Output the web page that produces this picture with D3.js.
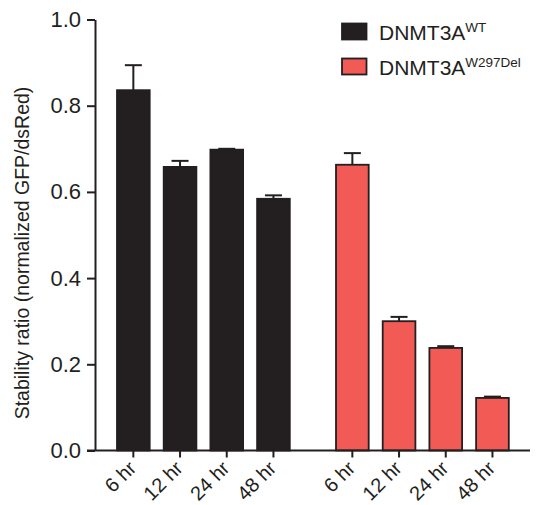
<!DOCTYPE html>
<html>
<head>
<meta charset="utf-8">
<script src="https://cdn.jsdelivr.net/npm/d3@7/dist/d3.min.js"></script>
<style>
  html, body { margin: 0; padding: 0; background: #fff; }
  svg { display: block; font-family: "Liberation Sans", Arial, Helvetica, sans-serif; }
</style>
</head>
<body>
<svg id="chart" width="537" height="505"></svg>
<script>
// Stability ratio by construct and time point
const groups = ["WT", "W297Del"];
const times = ["6 hr", "12 hr", "24 hr", "48 hr"];
const wtMeans = [0.836, 0.658, 0.698, 0.584];
const wtErr = [0.058, 0.014, 0.002, 0.008];
const delMeans = [0.663, 0.300, 0.238, 0.122];
const delErr = [0.027, 0.010, 0.004, 0.003];
const yTicks = [0, 0.2, 0.4, 0.6, 0.8, 1.0];
const groupColors = { "WT": "#231f20", "W297Del": "#f15a55" };
const ink = "#231f20";

const rows = [];
groups.forEach((g, gi) => {
  const means = gi === 0 ? wtMeans : delMeans;
  const errs = gi === 0 ? wtErr : delErr;
  times.forEach((t, i) => rows.push({ group: g, time: t, value: means[i], err: errs[i] }));
});

const svg = d3.select("#chart");
const axisX = 95, baseY = 450.5, topY = 19.5, rightX = 530;

const y = d3.scaleLinear().domain([0, 1]).range([baseY, topY]);
const xGroup = d3.scaleBand().domain(groups).range([117, 508.8]).paddingInner(0.211).paddingOuter(0);
const xTime = d3.scaleBand().domain(times).range([0, xGroup.bandwidth()]).paddingInner(0.3).paddingOuter(0);
const cx = d => xGroup(d.group) + xTime(d.time) + xTime.bandwidth() / 2;

// y axis
const yAxis = svg.append("g")
  .attr("transform", `translate(${axisX},0)`)
  .call(d3.axisLeft(y).tickValues(yTicks).tickFormat(d3.format(".1f")).tickSize(8).tickSizeOuter(0).tickPadding(6));
yAxis.select(".domain").attr("stroke", ink).attr("stroke-width", 2);
yAxis.selectAll(".tick line").attr("stroke", ink).attr("stroke-width", 2);
yAxis.selectAll(".tick text").attr("fill", ink).attr("font-size", 22).attr("font-family", "Liberation Sans, Arial, sans-serif");

// bars
svg.append("g").selectAll("rect").data(rows).join("rect")
  .attr("x", d => xGroup(d.group) + xTime(d.time))
  .attr("y", d => y(d.value))
  .attr("width", xTime.bandwidth())
  .attr("height", d => y(0) - y(d.value))
  .attr("fill", d => groupColors[d.group])
  .attr("stroke", ink)
  .attr("stroke-width", 1.8);

// upper error bars
const eb = svg.append("g").attr("stroke", ink).attr("stroke-width", 2);
rows.forEach(d => {
  const top = y(d.value + d.err);
  eb.append("line").attr("x1", cx(d)).attr("x2", cx(d)).attr("y1", y(d.value)).attr("y2", top);
  eb.append("line").attr("x1", cx(d) - 8.5).attr("x2", cx(d) + 8.5).attr("y1", top).attr("y2", top);
});

// x axis baseline and ticks
svg.append("line").attr("x1", axisX - 8).attr("x2", rightX).attr("y1", baseY).attr("y2", baseY)
  .attr("stroke", ink).attr("stroke-width", 2);
const xt = svg.append("g").selectAll("g").data(rows).join("g")
  .attr("transform", d => `translate(${cx(d)},${baseY})`);
xt.append("line").attr("y1", 0).attr("y2", 7).attr("stroke", ink).attr("stroke-width", 2);
xt.append("text")
  .attr("transform", "translate(4,19) rotate(-45)")
  .attr("text-anchor", "end")
  .attr("font-size", 20)
  .attr("fill", ink)
  .text(d => d.time);

// y axis title
svg.append("text")
  .attr("transform", `translate(29,${(baseY + topY) / 2 + 18}) rotate(-90)`)
  .attr("text-anchor", "middle")
  .attr("font-size", 19.5)
  .attr("fill", ink)
  .text("Stability ratio (normalized GFP/dsRed)");

// legend
const legend = svg.append("g");
const legendItems = [
  { key: "WT", sup: "WT" },
  { key: "W297Del", sup: "W297Del" }
];
legendItems.forEach((item, i) => {
  const gy = 23.5 + i * 35;
  legend.append("rect").attr("x", 342).attr("y", gy).attr("width", 24.5).attr("height", 16)
    .attr("fill", groupColors[item.key]).attr("stroke", ink).attr("stroke-width", 1.8);
  const t = legend.append("text").attr("x", 379).attr("y", gy + 16).attr("font-size", 21).attr("fill", ink);
  t.append("tspan").text("DNMT3A");
  t.append("tspan").attr("font-size", 13.5).attr("dy", -8).text(item.sup);
});
</script>
</body>
</html>
